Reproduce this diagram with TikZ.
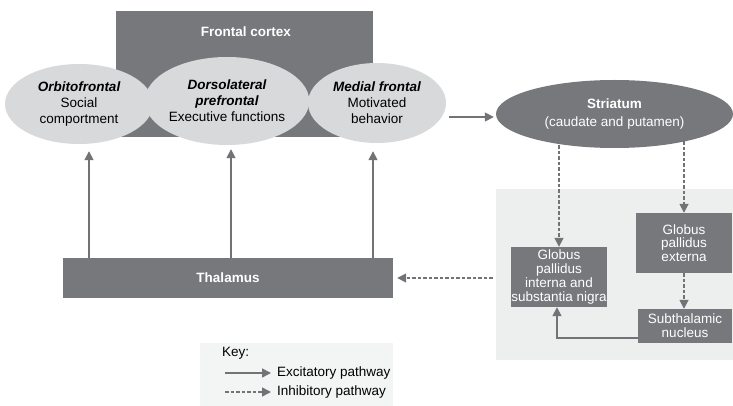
\documentclass[tikz,border=0pt]{standalone}
\usepackage{fontspec}
\setmainfont{Liberation Sans}
\usetikzlibrary{shapes.geometric,arrows.meta,calc}
\definecolor{darkfill}{HTML}{77787B}
\definecolor{palefill}{HTML}{D8D9DA}
\definecolor{panelfill}{HTML}{EDEEEE}
\definecolor{keyfill}{HTML}{F3F4F4}
\definecolor{wire}{HTML}{727376}

\begin{document}
\begin{tikzpicture}[x=1pt,y=-1pt,
  font=\fontsize{13.5}{16}\selectfont,
  region/.style={ellipse, fill=palefill, inner sep=0pt, align=center, text=black},
  darkbox/.style={rectangle, fill=darkfill, inner sep=0pt, align=center, text=white,
    font=\fontsize{13.5}{13.7}\selectfont},
  exc/.style={draw=wire, line width=1.6pt, -{Triangle[length=9pt,width=9pt]}},
  inh/.style={exc, dash pattern=on 3.5pt off 2pt},
  keytext/.style={anchor=west, inner sep=0pt, text=black},
]
\useasboundingbox (0,0) rectangle (733,406);

% frontal cortex block with its three regions
\node[darkbox, minimum width=257pt, minimum height=126pt] (fc) at (244.5,74) {};
\node[text=white, font=\fontsize{13.5}{16}\selectfont\bfseries] (fctitle) at (246,32) {Frontal cortex};
\node[region, minimum width=148pt, minimum height=80pt] (o1) at (79,104)
  {{\bfseries\itshape Orbitofrontal}\\Social\\comportment};
\node[region, minimum width=140pt, minimum height=88pt] (o2) at (227,101)
  {{\bfseries\itshape Dorsolateral}\\{\bfseries\itshape prefrontal}\\Executive functions};
\node[region, minimum width=138pt, minimum height=80pt] (o3) at (377,103)
  {{\bfseries\itshape Medial frontal}\\Motivated\\behavior};

% striatum
\node[ellipse, fill=darkfill, text=white, inner sep=0pt, align=center,
  minimum width=237pt, minimum height=68pt, font=\fontsize{13.5}{18}\selectfont]
  (str) at (614.5,114) {{\bfseries Striatum}\\(caudate and putamen)};

% thalamus
\node[darkbox, minimum width=330pt, minimum height=40pt,
  font=\fontsize{13.5}{16}\selectfont\bfseries] (thal) at (228,278) {Thalamus};

% basal ganglia panel
\node[rectangle, fill=panelfill, minimum width=237pt, minimum height=171pt, inner sep=0pt]
  (panel) at (614.5,274.5) {};
\node[darkbox, minimum width=96pt, minimum height=60pt] (gpi) at (559,277)
  {Globus\\pallidus\\interna and\\substantia nigra};
\node[darkbox, minimum width=96pt, minimum height=60pt] (gpe) at (684,243)
  {Globus\\pallidus\\externa};
\node[darkbox, minimum width=94pt, minimum height=34pt] (stn) at (685,326)
  {Subthalamic\\nucleus};

% thalamo-cortical projections
\coordinate (u1) at ([xshift=10pt]o1.south);
\coordinate (u2) at ([xshift=4pt]o2.south);
\coordinate (u3) at ([xshift=-4pt]o3.south);
\draw[exc] (u1 |- thal.north) -- ([yshift=-7pt]u1);
\draw[exc] (u2 |- thal.north) -- ([yshift=-4pt]u2);
\draw[exc] (u3 |- thal.north) -- ([yshift=-8pt]u3);

% cortex to striatum
\draw[exc] ([shift={(3pt,-14pt)}]o3.east) -- ([shift={(-2pt,-3pt)}]str.west);

% striatal outputs
\draw[inh] ([yshift=3pt]str.south -| gpi.north) -- (gpi.north);
\draw[inh] ([yshift=7pt]str.south -| gpe.north) -- (gpe.north);
\draw[inh] (gpe.south) -- (stn.north -| gpe.south);
\draw[exc] ([yshift=-12pt]stn.west) -| ([xshift=-2pt]gpi.south);

% output back to thalamus
\draw[inh] ([xshift=-3pt]panel.west |- thal.east) -- ([xshift=4pt]thal.east);

% key
\node[rectangle, fill=keyfill, minimum width=193pt, minimum height=63pt, inner sep=0pt]
  (key) at (296.5,374.5) {};
\node[keytext] (keytitle) at (222,353) {Key:};
\coordinate (ka1) at (225,373);
\coordinate (kb1) at (271,373);
\coordinate (ka2) at (225,392);
\coordinate (kb2) at (271,392);
\draw[exc] (ka1) -- (kb1);
\draw[inh] (ka2) -- (kb2);
\node[keytext] (kexc) at (277,373) {Excitatory pathway};
\node[keytext] (kinh) at (277,392) {Inhibitory pathway};
\end{tikzpicture}
\end{document}
